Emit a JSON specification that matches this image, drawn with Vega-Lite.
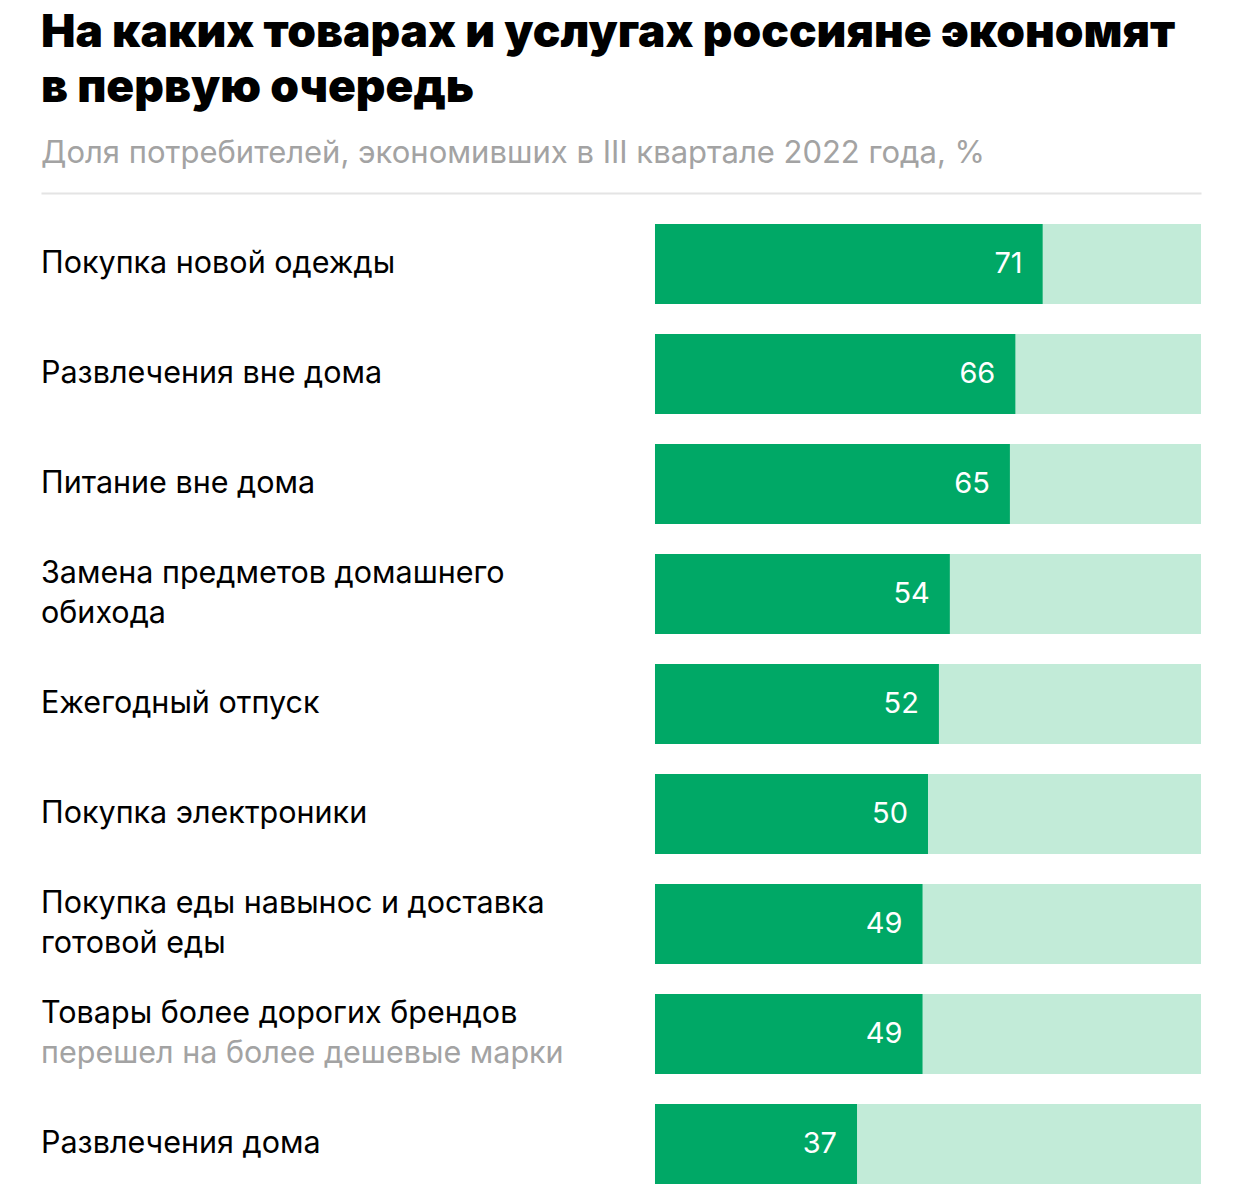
{
  "$schema": "https://vega.github.io/schema/vega-lite/v6.json",
  "width": 1160,
  "height": 1022,
  "padding": {"left": 41, "right": 41, "top": 10, "bottom": 0},
  "background": "white",
  "title": {
    "text": ["На каких товарах и услугах россияне экономят", "в первую очередь"],
    "subtitle": "Доля потребителей, экономивших в III квартале 2022 года, %",
    "anchor": "start",
    "font": "Inter",
    "fontSize": 46,
    "fontWeight": 900,
    "lineHeight": 55,
    "color": "#000000",
    "subtitleFont": "Inter",
    "subtitleFontSize": 31,
    "subtitleColor": "#a3a3a3",
    "subtitlePadding": 27,
    "offset": 23
  },
  "config": {
    "view": {"stroke": null},
    "font": "Inter"
  },
  "data": {
    "values": [
      {"label": "Покупка новой одежды", "note": "", "value": 71},
      {"label": "Развлечения вне дома", "note": "", "value": 66},
      {"label": "Питание вне дома", "note": "", "value": 65},
      {"label": "Замена предметов домашнего|обихода", "note": "", "value": 54},
      {"label": "Ежегодный отпуск", "note": "", "value": 52},
      {"label": "Покупка электроники", "note": "", "value": 50},
      {"label": "Покупка еды навынос и доставка|готовой еды", "note": "", "value": 49},
      {"label": "Товары более дорогих брендов|", "note": "перешел на более дешевые марки", "value": 49},
      {"label": "Развлечения дома", "note": "", "value": 37}
    ]
  },
  "encoding": {
    "y": {
      "field": "label",
      "type": "nominal",
      "sort": null,
      "scale": {"paddingInner": 0.2727, "paddingOuter": 0.2818},
      "axis": null
    }
  },
  "layer": [
    {
      "mark": {"type": "bar", "color": "#c2ebd8"},
      "encoding": {
        "x": {
          "datum": 0,
          "type": "quantitative",
          "scale": {"domain": [-112.45, 100], "nice": false, "zero": false},
          "axis": {
            "orient": "top",
            "labels": false,
            "ticks": false,
            "grid": false,
            "title": null,
            "domainColor": "#e4e4e4",
            "domainWidth": 2
          }
        },
        "x2": {"datum": 100}
      }
    },
    {
      "mark": {"type": "bar", "color": "#00a866"},
      "encoding": {
        "x": {"field": "value", "type": "quantitative"},
        "x2": {"datum": 0}
      }
    },
    {
      "mark": {
        "type": "text",
        "align": "right",
        "baseline": "middle",
        "dx": -20,
        "fontSize": 29,
        "color": "white"
      },
      "encoding": {
        "x": {"field": "value", "type": "quantitative"},
        "text": {"field": "value", "type": "quantitative"}
      }
    },
    {
      "transform": [{"filter": "indexof(datum.label, '|') < 0"}],
      "mark": {
        "type": "text",
        "align": "left",
        "baseline": "middle",
        "fontSize": 30.5,
        "color": "#000000"
      },
      "encoding": {
        "x": {"datum": -112.45, "type": "quantitative"},
        "text": {"field": "label"}
      }
    },
    {
      "transform": [{"filter": "indexof(datum.label, '|') >= 0"}],
      "mark": {
        "type": "text",
        "align": "left",
        "baseline": "middle",
        "dy": -20,
        "fontSize": 30.5,
        "lineHeight": 40,
        "lineBreak": "|",
        "color": "#000000"
      },
      "encoding": {
        "x": {"datum": -112.45, "type": "quantitative"},
        "text": {"field": "label"}
      }
    },
    {
      "transform": [{"filter": "datum.note != ''"}],
      "mark": {
        "type": "text",
        "align": "left",
        "baseline": "middle",
        "dy": 20,
        "fontSize": 30.5,
        "color": "#a3a3a3"
      },
      "encoding": {
        "x": {"datum": -112.45, "type": "quantitative"},
        "text": {"field": "note"}
      }
    }
  ]
}
